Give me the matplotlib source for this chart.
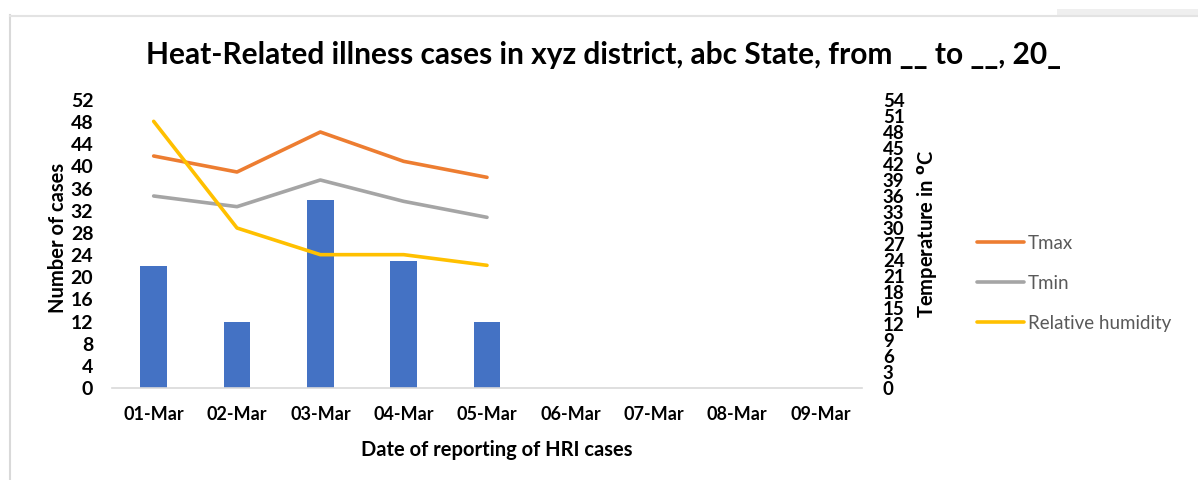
import matplotlib
matplotlib.use("Agg")
import matplotlib.pyplot as plt
from matplotlib.lines import Line2D
from matplotlib.patches import Rectangle

dates = ["01-Mar", "02-Mar", "03-Mar", "04-Mar", "05-Mar", "06-Mar", "07-Mar", "08-Mar", "09-Mar"]
cases = [22, 12, 34, 23, 12]
tmax = [43.5, 40.5, 48, 42.5, 39.5]
tmin = [36, 34, 39, 35, 32]
rh = [50, 30, 25, 25, 23]
left_ticks = list(range(0, 53, 4))
right_ticks = list(range(0, 55, 3))

plt.rcParams['font.family'] = ['Lato', 'DejaVu Sans']

W, H = 1198, 480
fig = plt.figure(figsize=(W / 100, H / 100), dpi=100)

def fx(px):
    return px / W

def fy(py):
    return 1 - py / H

# chart frame
fig.add_artist(Line2D([fx(9.5), fx(9.5)], [fy(15), 0], color="#D9D9D9", lw=1.5, transform=fig.transFigure))
fig.add_artist(Line2D([fx(9.5), 1], [fy(15.5), fy(15.5)], color="#E3E3E3", lw=1.5, transform=fig.transFigure))
fig.add_artist(Rectangle((fx(1057), fy(15)), 1 - fx(1057), fy(9) - fy(15), color="#EFEFEF", transform=fig.transFigure, lw=0))

ax = fig.add_axes([fx(112), fy(388), fx(862) - fx(112), fy(100) - fy(388)])
x = list(range(len(dates)))
ax.bar(x[:len(cases)], cases, width=0.32, color="#4472C4", zorder=2)
ax.set_xlim(-0.5, len(dates) - 0.5)
ax.set_ylim(0, 52)
ax.set_yticks(left_ticks)
ax.set_yticklabels([str(v) for v in left_ticks], fontsize=14, fontweight="bold")
ax.set_xticks(x)
ax.set_xticklabels(dates, fontsize=13, fontweight="bold")
ax.tick_params(axis="y", length=0, pad=13.5)
ax.tick_params(axis="x", length=0, pad=13)
for s in ["top", "right", "left"]:
    ax.spines[s].set_visible(False)
ax.spines["bottom"].set_color("#D9D9D9")
ax.spines["bottom"].set_linewidth(1.2)

ax2 = ax.twinx()
ax2.set_ylim(0, 54)
ax2.set_yticks(right_ticks)
ax2.set_yticklabels([str(v) for v in right_ticks], fontsize=13.5, fontweight="bold")
ax2.tick_params(axis="y", length=0, pad=15)
for s in ["top", "right", "left", "bottom"]:
    ax2.spines[s].set_visible(False)

xl = x[:len(tmax)]
l1, = ax2.plot(xl, tmax, color="#ED7D31", lw=2.6, solid_capstyle="round", label="Tmax")
l2, = ax2.plot(xl, tmin, color="#A5A5A5", lw=2.6, solid_capstyle="round", label="Tmin")
l3, = ax2.plot(xl, rh, color="#FFC000", lw=2.6, solid_capstyle="round", label="Relative humidity")

fig.text(fx(604), fy(55), "Heat-Related illness cases in xyz district, abc State, from __ to __, 20_",
         ha="center", va="center", fontsize=21.5, fontweight="bold", color="#000000")
fig.text(fx(497), fy(450), "Date of reporting of HRI cases", ha="center", va="center",
         fontsize=14.5, fontweight="bold")
fig.text(fx(58), fy(238), "Number of cases", ha="center", va="center", rotation=90,
         fontsize=14.5, fontweight="bold")
fig.text(fx(927), fy(234), r"Temperature in $^{\mathbf{o}}$C", ha="center", va="center", rotation=90,
         fontsize=14.5, fontweight="bold")

leg = fig.legend(handles=[l1, l2, l3], loc="upper left", bbox_to_anchor=(fx(977), fy(235)),
                 frameon=False, fontsize=13.5, handlelength=2.5, handletextpad=0.2,
                 labelspacing=1.22, borderpad=0, borderaxespad=0)
for t in leg.get_texts():
    t.set_color("#595959")

fig.savefig("out.png", dpi=100)
